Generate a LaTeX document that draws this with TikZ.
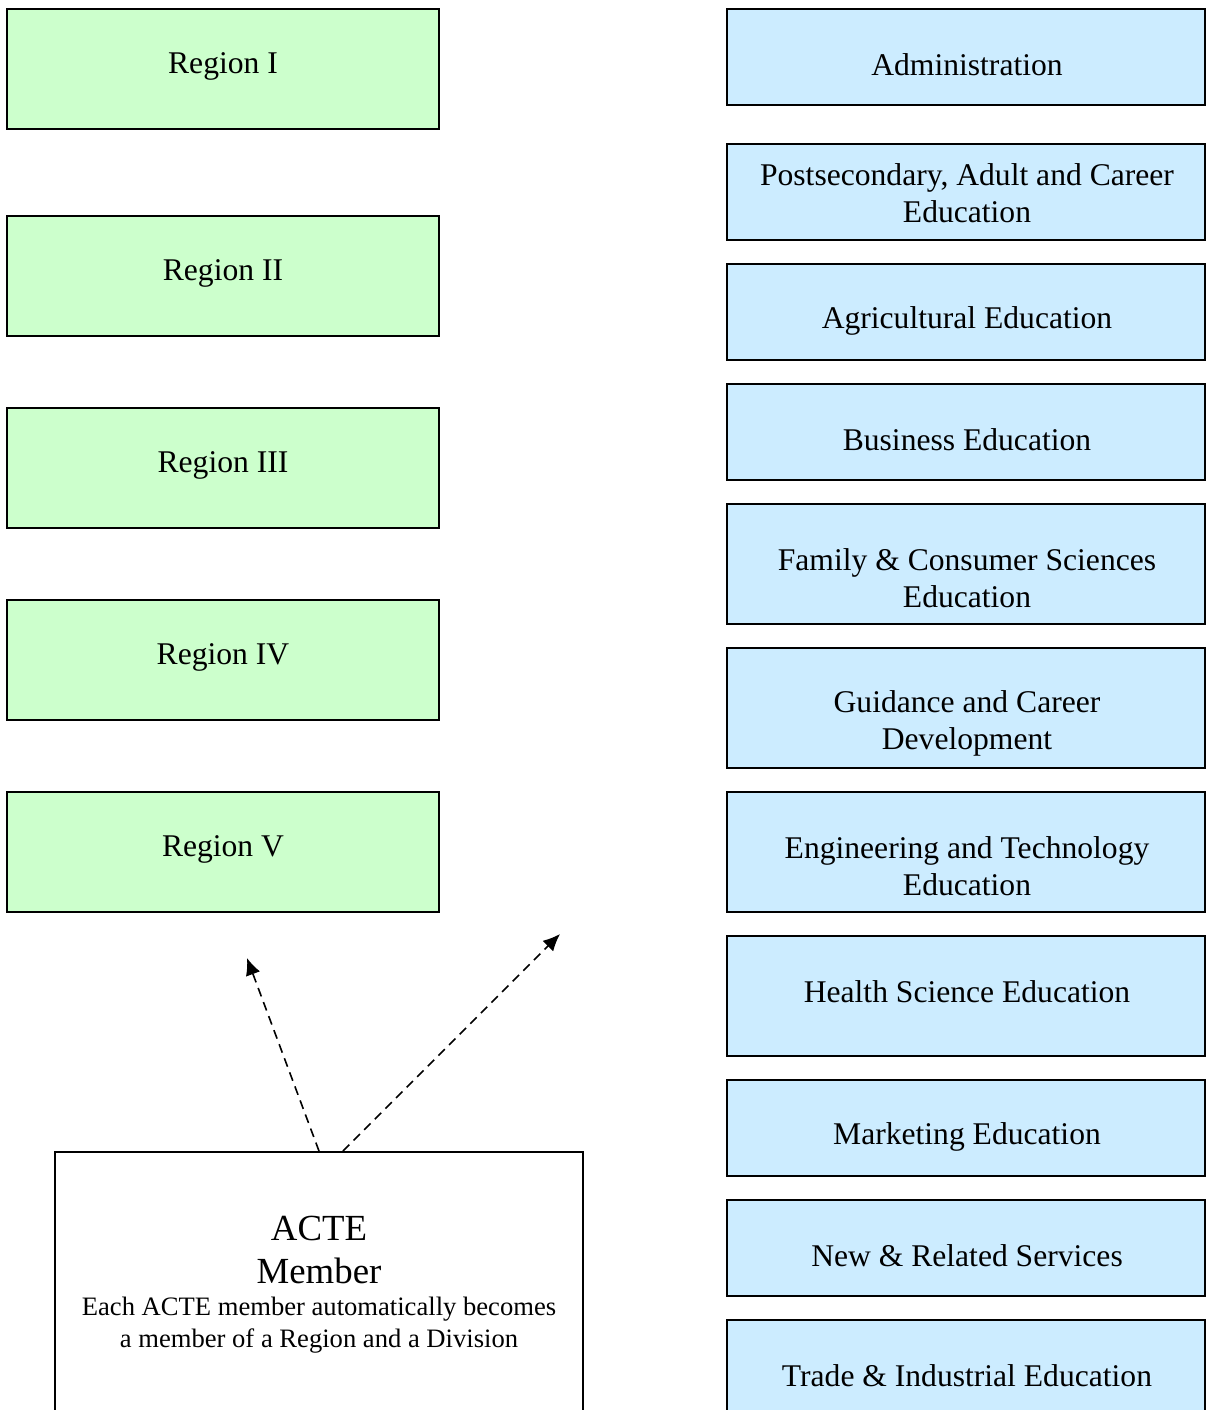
\documentclass[tikz,border=0pt]{standalone}
\usepackage{fontspec}
\setmainfont{Liberation Serif}
\usetikzlibrary{arrows.meta}

\definecolor{regiongreen}{HTML}{CCFFCC}
\definecolor{divblue}{HTML}{CCECFF}
\newcommand\boxfont{\fontsize{15.8}{18.5}\selectfont}
\newcommand\bigfont{\fontsize{18.4}{21.5}\selectfont}
\newcommand\notefont{\fontsize{13.3}{16}\selectfont}

\begin{document}
\begin{tikzpicture}[x=0.5pt,y=-0.5pt,
    regbox/.style={draw, line width=1pt, fill=regiongreen, inner sep=0, minimum width=216pt, minimum height=60pt},
    divbox/.style={draw, line width=1pt, fill=divblue, inner sep=0, minimum width=239pt},
    lbl/.style={align=center, font=\boxfont, inner sep=0},
    link/.style={dashed, dash pattern=on 4.5pt off 3pt, line width=0.8pt, -{Latex[length=8.5pt,width=7.5pt]}}]
    \useasboundingbox (0,0) rectangle (1207,1410);
    \clip (0,0) rectangle (1207,1410);
    % regions
    \node[regbox] (r1) at (223,69) {};
    \node[regbox] (r2) at (223,276) {};
    \node[regbox] (r3) at (223,468) {};
    \node[regbox] (r4) at (223,660) {};
    \node[regbox] (r5) at (223,852) {};
    \node[lbl] (r1t) at (223,66) {Region I};
    \node[lbl] (r2t) at (223,273) {Region II};
    \node[lbl] (r3t) at (223,465) {Region III};
    \node[lbl] (r4t) at (223,657) {Region IV};
    \node[lbl] (r5t) at (223,849) {Region V};
    % divisions
    \node[divbox, minimum height=48pt] (adm) at (966,57) {};
    \node[divbox, minimum height=48pt] (pace) at (966,192) {};
    \node[divbox, minimum height=48pt] (agri) at (966,312) {};
    \node[divbox, minimum height=48pt] (bus) at (966,432) {};
    \node[divbox, minimum height=60pt] (fcs) at (966,564) {};
    \node[divbox, minimum height=60pt] (gcd) at (966,708) {};
    \node[divbox, minimum height=60pt] (eng) at (966,852) {};
    \node[divbox, minimum height=60pt] (hse) at (966,996) {};
    \node[divbox, minimum height=48pt] (mkt) at (966,1128) {};
    \node[divbox, minimum height=48pt] (nrs) at (966,1248) {};
    \node[divbox, minimum height=60pt] (tie) at (966,1380) {};
    \node[lbl] (admt) at (967,65) {Administration};
    \node[lbl] (pacet) at (967,193) {Postsecondary, Adult and Career\\Education};
    \node[lbl] (agrit) at (967,321) {Agricultural Education};
    \node[lbl] (bust) at (967,440) {Business Education};
    \node[lbl] (fcst) at (967,578) {Family \& Consumer Sciences\\Education};
    \node[lbl] (gcdt) at (967,723.5) {Guidance and Career\\Development};
    \node[lbl] (engt) at (967,866) {Engineering and Technology\\Education};
    \node[lbl] (hset) at (967,992) {Health Science Education};
    \node[lbl] (mktt) at (967,1137) {Marketing Education};
    \node[lbl] (nrst) at (967,1256) {New \& Related Services};
    \node[lbl] (tiet) at (967,1376) {Trade \& Industrial Education};
    % member
    \node[draw, line width=1pt, fill=white, inner sep=0, minimum width=264pt, minimum height=150pt] (member) at (319,1302) {};
    \node[align=center, font=\bigfont, inner sep=0] (membert) at (319,1250) {ACTE\\Member};
    \node[align=center, font=\notefont, inner sep=0] (membernote) at (319,1325) {Each ACTE member automatically becomes\\a member of a Region and a Division};
    \coordinate (regtip) at (247,958);
    \coordinate (divtip) at (560,934);
    \draw[link] (member.north) -- (regtip);
    \draw[link] ([xshift=12pt]member.north) -- (divtip);
\end{tikzpicture}
\end{document}
